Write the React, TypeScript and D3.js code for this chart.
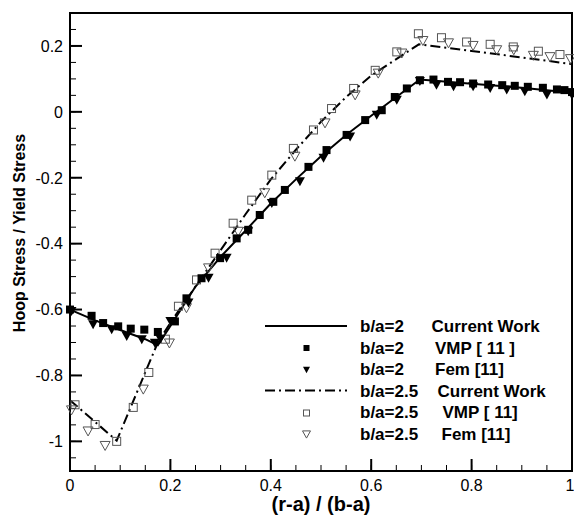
import React from "react";
import * as d3 from "d3";

const W = 574;
const H = 516;

const xTicks = [0, 0.2, 0.4, 0.6, 0.8, 1];
const xTickLabels = ["0", "0.2", "0.4", "0.6", "0.8", "1"];
const yTicks = [0.2, 0, -0.2, -0.4, -0.6, -0.8, -1];
const yTickLabels = ["0.2", "0", "-0.2", "-0.4", "-0.6", "-0.8", "-1"];

// b/a=2 Current Work (solid)
const cw2: [number, number][] = [
  [0, -0.6], [0.05, -0.633], [0.1, -0.662], [0.15, -0.69], [0.175, -0.708],
  [0.2, -0.65], [0.25, -0.53], [0.3, -0.44], [0.35, -0.36], [0.4, -0.278],
  [0.45, -0.205], [0.5, -0.135], [0.55, -0.07], [0.6, -0.012], [0.65, 0.045],
  [0.697, 0.098], [0.8, 0.085], [0.9, 0.073], [1.0, 0.058],
];
// b/a=2.5 Current Work (dash-dot)
const cw25: [number, number][] = [
  [0, -0.875], [0.093, -0.998], [0.12, -0.9], [0.15, -0.79], [0.175, -0.7],
  [0.2, -0.64], [0.25, -0.53], [0.3, -0.42], [0.35, -0.31], [0.4, -0.205],
  [0.45, -0.115], [0.5, -0.03], [0.55, 0.045], [0.6, 0.11], [0.65, 0.16],
  [0.695, 0.205], [0.8, 0.185], [0.9, 0.165], [1.0, 0.145],
];
// b/a=2 VMP [11] (filled squares)
const vmp2: [number, number][] = [
  [0, -0.6], [0.043, -0.619], [0.066, -0.641], [0.096, -0.651], [0.121, -0.658],
  [0.148, -0.661], [0.175, -0.668], [0.209, -0.636], [0.232, -0.566], [0.262, -0.505],
  [0.299, -0.444], [0.332, -0.384], [0.355, -0.358], [0.378, -0.313], [0.405, -0.273],
  [0.428, -0.237], [0.475, -0.167], [0.511, -0.116], [0.551, -0.07], [0.588, -0.025],
  [0.621, 0.005], [0.647, 0.045], [0.671, 0.071], [0.697, 0.096], [0.724, 0.098],
  [0.753, 0.091], [0.777, 0.09], [0.803, 0.086], [0.833, 0.083], [0.861, 0.081],
  [0.886, 0.079], [0.912, 0.076], [0.942, 0.073], [0.97, 0.068], [0.985, 0.066], [1.0, 0.06],
];
// b/a=2 Fem [11] (filled down-triangles)
const fem2: [number, number][] = [
  [0.003, -0.606], [0.046, -0.646], [0.083, -0.661], [0.113, -0.682], [0.143, -0.692],
  [0.169, -0.702], [0.18, -0.69], [0.2, -0.636], [0.236, -0.58], [0.276, -0.505],
  [0.312, -0.444], [0.355, -0.364], [0.402, -0.278], [0.458, -0.212], [0.505, -0.141],
  [0.558, -0.076], [0.611, -0.01], [0.651, 0.035], [0.697, 0.092], [0.73, 0.081],
  [0.764, 0.076], [0.803, 0.076], [0.837, 0.071], [0.87, 0.066], [0.906, 0.061],
  [0.95, 0.051], [1.0, 0.05],
];
// b/a=2.5 VMP [11] (open squares)
const vmp25: [number, number][] = [
  [0.01, -0.889], [0.05, -0.949], [0.093, -1.0], [0.126, -0.897], [0.157, -0.791],
  [0.19, -0.69], [0.216, -0.59], [0.252, -0.51], [0.289, -0.429], [0.325, -0.338],
  [0.362, -0.268], [0.402, -0.192], [0.445, -0.111], [0.485, -0.055], [0.521, 0.01],
  [0.565, 0.071], [0.608, 0.126], [0.651, 0.182], [0.694, 0.237], [0.74, 0.225],
  [0.79, 0.212], [0.837, 0.205], [0.883, 0.197], [0.933, 0.184], [0.976, 0.174],
];
// b/a=2.5 Fem [11] (open down-triangles)
const fem25: [number, number][] = [
  [0.003, -0.906], [0.036, -0.97], [0.07, -1.014], [0.146, -0.843], [0.198, -0.703],
  [0.232, -0.596], [0.276, -0.475], [0.335, -0.364], [0.388, -0.247], [0.448, -0.136],
  [0.508, -0.035], [0.568, 0.05], [0.614, 0.116], [0.661, 0.177], [0.703, 0.215],
  [0.754, 0.208], [0.803, 0.2], [0.85, 0.187], [0.884, 0.187], [0.923, 0.17],
  [0.956, 0.166], [0.997, 0.16],
];

const legendLabels = [
  ["b/a=2", "Current Work"],
  ["b/a=2", "VMP [ 11 ]"],
  ["b/a=2", "Fem [11]"],
  ["b/a=2.5", "Current Work"],
  ["b/a=2.5", "VMP [ 11]"],
  ["b/a=2.5", "Fem [11]"],
];

const L = 70, R = 572, T = 13, B = 471;
const FONT = "'Liberation Sans', Arial, Helvetica, sans-serif";
const GREY = "#555";
const DASHDOT = "10,4,2,4";

function tri(cx: number, cy: number, s: number) {
  const h = s * 0.9;
  return `M${cx - s / 2},${cy - h / 2}L${cx + s / 2},${cy - h / 2}L${cx},${cy + h / 2}Z`;
}

export default function App() {
  const x = d3.scaleLinear().domain([0, 1]).range([L, R]);
  const y = d3.scaleLinear().domain([-1.09, 0.3]).range([B, T]);
  const line = d3.line<[number, number]>().x((d) => x(d[0])).y((d) => y(d[1]));

  const xMinor = d3.range(0, 1.0001, 0.05);
  const yMinor = d3.range(-1.05, 0.3, 0.05);

  const legX1 = 265, legX2 = 347, legMark = 306.5, legT1 = 360;
  const legT2 = [431.5, 435, 435, 437.5, 442.5, 441.5];
  const legBase = [332, 353.5, 375, 396.5, 418, 439.5];

  return (
    <svg width={W} height={H} style={{ position: "absolute", left: 0, top: 0, background: "#fff" }}>
      {/* minor ticks */}
      {xMinor.map((v, i) => (
        <line key={"xm" + i} x1={x(v)} x2={x(v)} y1={B} y2={B - 6} stroke="#000" strokeWidth={1} />
      ))}
      {yMinor.map((v, i) => (
        <line key={"ym" + i} x1={L} x2={L + 6} y1={y(v)} y2={y(v)} stroke="#000" strokeWidth={1} />
      ))}
      {xTicks.map((v, i) => (
        <g key={"xt" + i}>
          <line x1={x(v)} x2={x(v)} y1={B} y2={B - 12} stroke="#000" strokeWidth={2} />
          <text x={i === xTicks.length - 1 ? x(v) - 2 : x(v)} y={491} textAnchor="middle" fontFamily={FONT} fontSize={16}>
            {xTickLabels[i]}
          </text>
        </g>
      ))}
      {yTicks.map((v, i) => (
        <g key={"yt" + i}>
          <line x1={L} x2={L + 12} y1={y(v)} y2={y(v)} stroke="#000" strokeWidth={2} />
          <text x={63} y={y(v) + 5.8} textAnchor="end" fontFamily={FONT} fontSize={16}>
            {yTickLabels[i]}
          </text>
        </g>
      ))}

      {/* frame */}
      <rect x={L} y={T} width={R - L} height={B - T} fill="none" stroke="#000" strokeWidth={2} />

      {/* lines */}
      <path d={line(cw2) || ""} fill="none" stroke="#000" strokeWidth={2} />
      <path d={line(cw25) || ""} fill="none" stroke="#000" strokeWidth={2} strokeDasharray={DASHDOT} />

      {/* markers */}
      {vmp25.map((d, i) => (
        <rect key={"os" + i} x={x(d[0]) - 4} y={y(d[1]) - 4} width={8} height={8} fill="none" stroke={GREY} strokeWidth={1} />
      ))}
      {fem25.map((d, i) => (
        <path key={"ot" + i} d={tri(x(d[0]), y(d[1]), 10)} fill="none" stroke={GREY} strokeWidth={1} />
      ))}
      {vmp2.map((d, i) => (
        <rect key={"fs" + i} x={x(d[0]) - 4} y={y(d[1]) - 4} width={8} height={8} fill="#000" />
      ))}
      {fem2.map((d, i) => (
        <path key={"ft" + i} d={tri(x(d[0]), y(d[1]), 10)} fill="#000" />
      ))}

      {/* legend */}
      <line x1={legX1} x2={legX2} y1={legBase[0] - 6} y2={legBase[0] - 6} stroke="#000" strokeWidth={2} />
      <rect x={legMark - 3} y={legBase[1] - 8.5} width={6} height={6} fill="#000" />
      <path d={tri(legMark, legBase[2] - 5, 7)} fill="#000" />
      <line x1={legX1} x2={legX2} y1={legBase[3] - 6} y2={legBase[3] - 6} stroke="#000" strokeWidth={2} strokeDasharray={DASHDOT} />
      <rect x={legMark - 3} y={legBase[4] - 8} width={6} height={6} fill="none" stroke={GREY} strokeWidth={1} />
      <path d={tri(legMark, legBase[5] - 5, 8)} fill="none" stroke={GREY} strokeWidth={1} />
      {legendLabels.map((lab, i) => (
        <g key={"lg" + i} fontFamily={FONT} fontSize={17} fontWeight="bold">
          <text x={legT1} y={legBase[i]}>{lab[0]}</text>
          <text x={legT2[i]} y={legBase[i]}>{lab[1]}</text>
        </g>
      ))}

      {/* axis titles */}
      <text x={(L + R) / 2} y={511} textAnchor="middle" fontFamily={FONT} fontSize={20} fontWeight="bold">
        (r-a) / (b-a)
      </text>
      <text
        transform={`translate(25,233) rotate(-90)`}
        textAnchor="middle"
        fontFamily={FONT}
        fontSize={16}
        fontWeight="bold"
      >
        Hoop Stress / Yield Stress
      </text>
    </svg>
  );
}
